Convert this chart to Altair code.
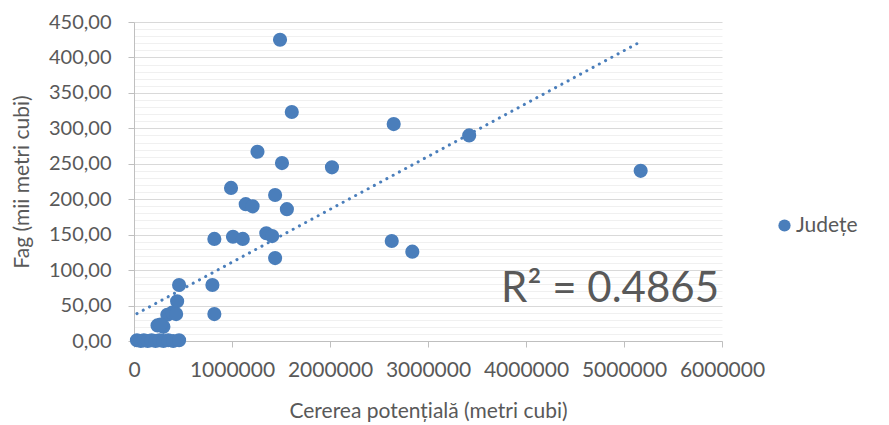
import altair as alt
import pandas as pd

# Cererea potențială (metri cubi) vs Fag (mii metri cubi), one point per județ
x_vals = [1490000, 1610000, 2650000, 3420000, 1260000, 1510000, 2020000, 990000,
          1440000, 1140000, 1210000, 1560000, 820000, 1010000, 1110000, 1350000,
          1410000, 2630000, 2840000, 1440000, 5170000,
          460000, 800000, 440000, 340000, 390000, 430000, 820000, 240000, 300000, 270000,
          30000, 70000, 100000, 140000, 180000, 220000, 260000, 300000, 350000, 400000, 460000]
y_vals = [425, 323, 306, 290, 267, 251, 245, 216,
          206, 193, 190, 186, 144, 147, 144, 152,
          148, 141, 126, 117, 240,
          79, 79, 56, 37, 40, 38, 38, 22, 20, 23,
          1, 0, 1, 0, 1, 0, 1, 0, 1, 0, 1]
series_name = "Județe"
x_ticks = [0, 1000000, 2000000, 3000000, 4000000, 5000000, 6000000]
y_ticks = list(range(0, 451, 10))
r2_label = ["R² = 0.4865"]

df = pd.DataFrame({"x": x_vals, "y": y_vals, "s": [series_name] * len(x_vals)})

FONT = "Lato"
GREY = "#595959"
BLUE = "#4A7EBB"

x_enc = alt.X(
    "x:Q",
    scale=alt.Scale(domain=[0, 6000000], nice=False, zero=True),
    axis=alt.Axis(
        values=x_ticks, format="d", title="Cererea potențială (metri cubi)",
        grid=False, domainColor="#bfbfbf", tickColor="#bfbfbf", tickSize=6,
        labelFont=FONT, labelFontSize=21, labelColor=GREY, labelPadding=12,
        labelFlush=False, labelOverlap=False,
        titleFont=FONT, titleFontSize=21, titleColor=GREY, titleFontWeight="normal",
        titlePadding=20,
    ),
)
y_enc = alt.Y(
    "y:Q",
    scale=alt.Scale(domain=[0, 450], nice=False),
    axis=alt.Axis(
        values=y_ticks,
        labelExpr="datum.value % 50 === 0 ? replace(format(datum.value, '.2f'), '.', ',') : ''",
        title="Fag (mii metri cubi)",
        gridColor=alt.condition("datum.value % 50 === 0", alt.value("#d9d9d9"), alt.value("#f0f0f0")),
        tickOpacity=alt.condition("datum.value % 50 === 0", alt.value(1), alt.value(0)),
        domainColor="#bfbfbf", tickColor="#bfbfbf", tickSize=6,
        labelFont=FONT, labelFontSize=20, labelColor=GREY, labelPadding=17,
        titleFont=FONT, titleFontSize=21, titleColor=GREY, titleFontWeight="normal",
        titlePadding=16,
    ),
)

base = alt.Chart(df)

trend = base.transform_regression("x", "y").mark_line(
    color=BLUE, strokeWidth=3, strokeDash=[0.1, 7], strokeCap="round"
).encode(x=x_enc, y=y_enc)

points = base.mark_point(filled=True, size=200, opacity=1).encode(
    x=x_enc,
    y=y_enc,
    color=alt.Color(
        "s:N",
        scale=alt.Scale(range=[BLUE]),
        legend=alt.Legend(
            title=None, orient="none", legendX=640, legendY=193,
            symbolType="circle", symbolSize=150, symbolStrokeWidth=0,
            labelFont=FONT, labelFontSize=21, labelColor=GREY, labelOffset=1,
        ),
    ),
)

r2 = alt.Chart(pd.DataFrame({"t": r2_label})).mark_text(
    align="right", baseline="alphabetic", font=FONT, fontSize=42, color=GREY
).encode(text="t:N", x=alt.value(585), y=alt.value(280))

chart = alt.layer(trend, points, r2).properties(
    width=588, height=319,
    padding={"left": 126, "top": 14, "right": 150, "bottom": 92},
    autosize=alt.AutoSizeParams(type="none"),
).configure_view(stroke=None)

chart.save("out.html", embed_options={"renderer": "svg", "actions": False})
